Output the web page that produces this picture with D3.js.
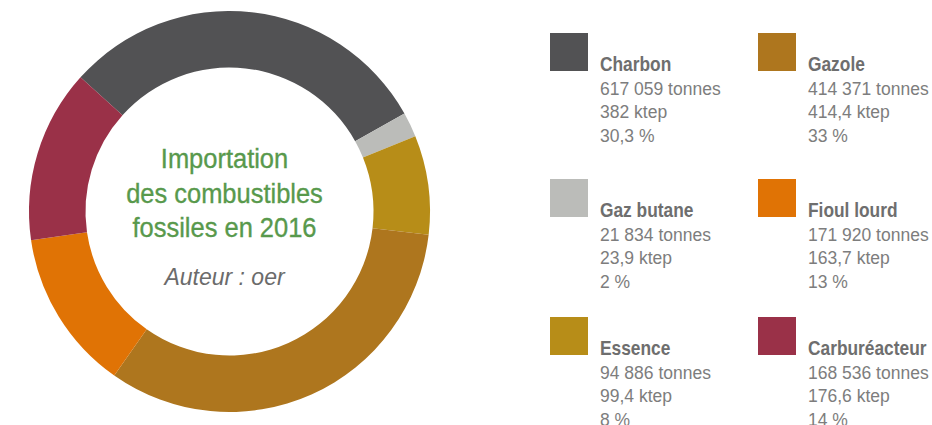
<!DOCTYPE html>
<html lang="fr">
<head>
    <meta charset="utf-8">
    <style>
        body { margin: 0; background: #fff; }
        .title { font-family: "Liberation Sans", Arial, sans-serif; fill: #58994c; stroke: #58994c; stroke-width: 0.35px; font-size: 28px; }
        .author { font-family: "Liberation Sans", Arial, sans-serif; fill: #6b6b6b; font-size: 23px; font-style: italic; }
        .lg-name { font-family: "Liberation Sans", Arial, sans-serif; font-weight: bold; fill: #6e6e6e; font-size: 19.5px; }
        .lg-val { font-family: "Liberation Sans", Arial, sans-serif; fill: #7d7d7d; font-size: 17.5px; }
    </style>
    <script src="https://d3js.org/d3.v7.min.js"></script>
</head>
<body>
    <svg width="932" height="425"></svg>
    <script>
        // data, in pie order (clockwise from the top-left)
        var categories = ["Charbon", "Gaz butane", "Essence", "Gazole", "Fioul lourd", "Carburéacteur"];
        var tonnes = [617059, 21834, 94886, 414371, 171920, 168536];
        var ktep = [382, 23.9, 99.4, 414.4, 163.7, 176.6];
        var percents = [30.3, 2, 8, 33, 13, 14];
        var colors = ["#525254", "#bbbcb9", "#b78d18", "#ae761e", "#e07305", "#9a3148"];
        // legend reading order: left column then right column, row by row
        var legendOrder = ["Charbon", "Gazole", "Gaz butane", "Fioul lourd", "Essence", "Carburéacteur"];
        var titleLines = ["Importation", "des combustibles", "fossiles en 2016"];
        var author = "Auteur : oer";

        var fr = d3.formatLocale({ decimal: ",", thousands: " ", grouping: [3], currency: ["", " €"] });
        var fmt = fr.format(",");

        var svg = d3.select("svg");
        var cx = 229.5, cy = 211.5, outerR = 200.5, innerR = 144;

        var start = -48 * Math.PI / 180;
        var pie = d3.pie()
            .sort(null)
            .value(function(d) { return d; })
            .startAngle(start)
            .endAngle(start + 2 * Math.PI);

        var arc = d3.arc().innerRadius(innerR).outerRadius(outerR);

        var g = svg.append("g").attr("transform", "translate(" + cx + "," + cy + ")");

        g.selectAll("path")
            .data(pie(percents))
            .enter().append("path")
            .attr("d", arc)
            .attr("fill", function(d, i) { return colors[i]; });

        // centre text (condensed look via horizontal squeeze)
        var tx = -5;
        g.selectAll(".title")
            .data(titleLines)
            .enter().append("text")
            .attr("class", "title")
            .attr("text-anchor", "middle")
            .attr("transform", function(d, i) {
                return "translate(" + tx + "," + (-43.5 + i * 34.5) + ") scale(0.91,1)";
            })
            .text(function(d) { return d; });

        g.append("text")
            .attr("class", "author")
            .attr("text-anchor", "middle")
            .attr("x", tx)
            .attr("y", 73.5)
            .text(author);

        // legend
        var colX = [550, 758];
        var rowTop = [33, 179, 317];
        var lineH = 23.5;

        legendOrder.forEach(function(name, k) {
            var i = categories.indexOf(name);
            var x = colX[k % 2], y = rowTop[Math.floor(k / 2)];
            var lg = svg.append("g").attr("transform", "translate(" + x + "," + y + ")");

            lg.append("rect")
                .attr("width", 38)
                .attr("height", 38)
                .attr("fill", colors[i]);

            lg.append("text")
                .attr("class", "lg-name")
                .attr("transform", "translate(50,38) scale(0.89,1)")
                .text(name);

            var lines = [
                fmt(tonnes[i]) + " tonnes",
                fmt(ktep[i]) + " ktep",
                fmt(percents[i]) + " %"
            ];
            lg.selectAll(".lg-val")
                .data(lines)
                .enter().append("text")
                .attr("class", "lg-val")
                .attr("x", 50)
                .attr("y", function(d, j) { return 38 + (j + 1) * lineH; })
                .text(function(d) { return d; });
        });
    </script>
</body>
</html>
